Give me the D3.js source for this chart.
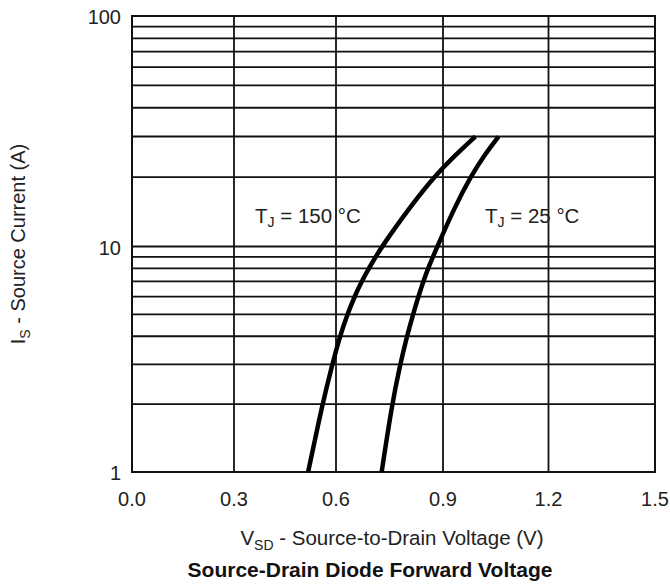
<!DOCTYPE html>
<html>
<head>
<meta charset="utf-8">
<script src="https://cdn.jsdelivr.net/npm/d3@7"></script>
<style>
  body { margin: 0; background: #fff; }
  svg { display: block; font-family: "Liberation Sans", Arial, sans-serif; }
</style>
</head>
<body>
<div id="chart"></div>
<script>
// Data
const xTicks = [0, 0.3, 0.6, 0.9, 1.2, 1.5];
const xTickLabels = ["0.0", "0.3", "0.6", "0.9", "1.2", "1.5"];
const yTicks = [1, 10, 100];
const yTickLabels = ["1", "10", "100"];
const current = [1, 2, 3, 4, 5, 6, 7, 8, 10, 15, 20, 25, 30];
const vsd150 = [0.518, 0.560, 0.589, 0.611, 0.632, 0.652, 0.672, 0.692, 0.728, 0.810, 0.874, 0.936, 0.992];
const vsd25 = [0.728, 0.757, 0.780, 0.799, 0.816, 0.831, 0.845, 0.858, 0.884, 0.935, 0.978, 1.018, 1.058];

const width = 670, height = 587;
const plotLeft = 132, plotRight = 655, plotTop = 16, plotBottom = 472;

const svg = d3.select("#chart").append("svg")
  .attr("width", width)
  .attr("height", height);

// grid in the original is slightly uneven, so map each tick separately
const x = d3.scaleLinear()
  .domain(xTicks)
  .range([plotLeft, plotLeft + 102, plotLeft + 204, plotLeft + 311, plotLeft + 416.5, plotRight]);
const y = d3.scaleLog()
  .domain(yTicks)
  .range([plotBottom, plotBottom - 225.5, plotTop]);

// horizontal grid: 2..9 in each decade
const minor = [];
[1, 10].forEach(d => { for (let k = 2; k <= 9; k++) minor.push(d * k); });
minor.push(10);

const g = svg.append("g");

g.selectAll(".hgrid")
  .data(minor)
  .enter()
  .append("line")
  .attr("x1", plotLeft).attr("x2", plotRight)
  .attr("y1", d => y(d)).attr("y2", d => y(d))
  .attr("stroke", "#111")
  .attr("stroke-width", 1.8);

g.selectAll(".vgrid")
  .data(xTicks.slice(1, -1))
  .enter()
  .append("line")
  .attr("x1", d => x(d)).attr("x2", d => x(d))
  .attr("y1", plotTop).attr("y2", plotBottom)
  .attr("stroke", "#111")
  .attr("stroke-width", 1.8);

g.append("rect")
  .attr("x", plotLeft).attr("y", plotTop)
  .attr("width", plotRight - plotLeft).attr("height", plotBottom - plotTop)
  .attr("fill", "none")
  .attr("stroke", "#111")
  .attr("stroke-width", 2);

// tick labels
svg.selectAll(".xt")
  .data(xTicks)
  .enter()
  .append("text")
  .attr("x", d => x(d))
  .attr("y", 506)
  .attr("text-anchor", "middle")
  .attr("font-size", 20)
  .attr("fill", "#222")
  .text((d, i) => xTickLabels[i]);

svg.selectAll(".yt")
  .data(yTicks)
  .enter()
  .append("text")
  .attr("x", 121)
  .attr("y", d => y(d) + 8)
  .attr("text-anchor", "end")
  .attr("font-size", 20)
  .attr("fill", "#222")
  .text((d, i) => yTickLabels[i]);

// curves (basis smooths the hand-read points)
const line = d3.line()
  .x(d => x(d[0]))
  .y(d => y(d[1]))
  .curve(d3.curveBasis);

[vsd150, vsd25].forEach(vs => {
  svg.append("path")
    .datum(vs.map((v, i) => [v, current[i]]))
    .attr("d", line)
    .attr("fill", "none")
    .attr("stroke", "#000")
    .attr("stroke-width", 4.5)
    .attr("stroke-linecap", "butt");
});

// curve labels
function tjLabel(xp, txt) {
  const t = svg.append("text")
    .attr("x", xp).attr("y", 223)
    .attr("font-size", 20.5)
    .attr("fill", "#222");
  t.append("tspan").text("T");
  t.append("tspan").attr("font-size", 14).attr("dy", 4).text("J");
  t.append("tspan").attr("dy", -4).text(txt);
}
tjLabel(255, " = 150 °C");
tjLabel(485, " = 25 °C");

// axis titles
const xl = svg.append("text")
  .attr("x", 392).attr("y", 545)
  .attr("text-anchor", "middle")
  .attr("font-size", 20.5)
  .attr("fill", "#222");
xl.append("tspan").text("V");
xl.append("tspan").attr("font-size", 14).attr("dy", 5).text("SD");
xl.append("tspan").attr("dy", -5).text(" - Source-to-Drain Voltage (V)");

const yl = svg.append("text")
  .attr("transform", "translate(25,244) rotate(-90)")
  .attr("text-anchor", "middle")
  .attr("font-size", 20)
  .attr("fill", "#222");
yl.append("tspan").text("I");
yl.append("tspan").attr("font-size", 14).attr("dy", 5).text("S");
yl.append("tspan").attr("dy", -5).text(" - Source Current (A)");

svg.append("text")
  .attr("x", 370).attr("y", 577)
  .attr("text-anchor", "middle")
  .attr("font-size", 21)
  .attr("font-weight", "bold")
  .attr("fill", "#111")
  .text("Source-Drain Diode Forward Voltage");
</script>
</body>
</html>
